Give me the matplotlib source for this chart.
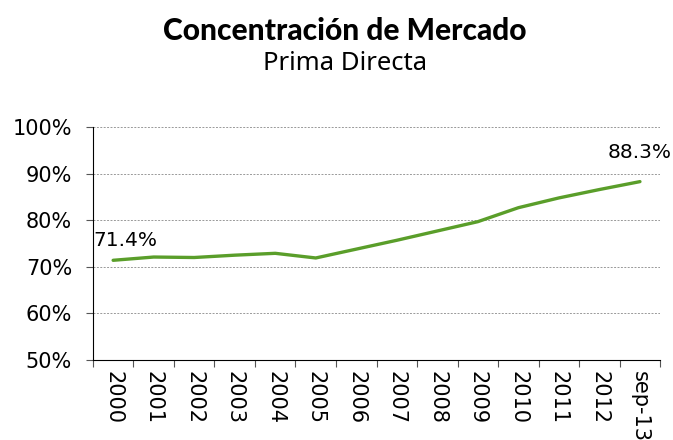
import matplotlib.pyplot as plt
import numpy as np
from matplotlib.ticker import FixedLocator, PercentFormatter

plt.rcParams['font.family'] = ['DejaVu Sans']

# data
years = ['2000', '2001', '2002', '2003', '2004', '2005', '2006',
         '2007', '2008', '2009', '2010', '2011', '2012', 'sep-13']
share = [71.4, 72.1, 72.0, 72.5, 72.9, 71.9, 73.8,
         75.7, 77.7, 79.7, 82.7, 84.8, 86.6, 88.3]

fig = plt.figure(figsize=(6.73, 4.40), dpi=100)
ax = fig.add_axes([0.138, 0.182, 0.843, 0.529])

x = np.arange(len(years))
ax.plot(x, share, color='#5a9e2a', linewidth=2.4, solid_capstyle='round')

ax.set_xlim(-0.5, len(years) - 0.5)
ax.set_ylim(50, 100)
ax.set_yticks(np.arange(50, 101, 10))
ax.yaxis.set_major_formatter(PercentFormatter(decimals=0))
ax.grid(axis='y', color='#999999', linestyle=(0, (2, 1.5)), linewidth=0.7)
ax.set_axisbelow(True)

# labels at the category centres, tick marks on the boundaries
ax.set_xticks(x)
ax.set_xticklabels(years, rotation=270, fontsize=15)
ax.tick_params(axis='x', which='major', length=0, pad=8)
ax.xaxis.set_minor_locator(FixedLocator(np.arange(-0.5, len(years), 1.0)))
ax.tick_params(axis='x', which='minor', length=5, width=0.8, color='#555555')
ax.tick_params(axis='y', labelsize=15, length=5, width=0.8, color='#555555', pad=10)

for side in ['top', 'right']:
    ax.spines[side].set_visible(False)
ax.spines['left'].set_color('black')
ax.spines['bottom'].set_color('black')

ax.annotate(f'{share[0]:.1f}%', (x[0], share[0]), xytext=(-14, 10),
            textcoords='offset points', fontsize=14.5)
ax.annotate(f'{share[-1]:.1f}%', (x[-1], share[-1]), xytext=(-23, 17),
            textcoords='offset points', fontsize=14.5)

fig.text(0.513, 0.93, 'Concentración de Mercado', ha='center', va='center',
         fontsize=21.5, fontweight='black', family='Lato')
fig.text(0.513, 0.856, 'Prima Directa', ha='center', va='center',
         fontsize=18.5, family='Noto Sans')

plt.savefig('out.png')
